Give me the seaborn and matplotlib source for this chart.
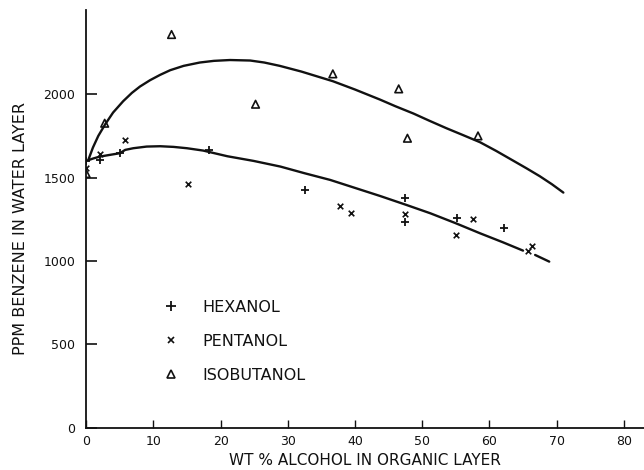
import numpy as np
import pandas as pd
import matplotlib
matplotlib.use("Agg")
import matplotlib.pyplot as plt
import seaborn as sns
from matplotlib.lines import Line2D

# ---- data ----
hex_x = [0.0, 2.0, 5.0, 18.3, 32.5, 47.4, 47.5, 55.2, 62.2]
hex_y = [1600, 1606, 1646, 1668, 1428, 1376, 1236, 1260, 1200]

pent_x = [0.0, 2.0, 5.8, 15.1, 37.8, 39.4, 47.5, 55.0, 57.6, 65.8, 66.3]
pent_y = [1560, 1640, 1726, 1460, 1332, 1288, 1284, 1156, 1252, 1060, 1088]

iso_x = [0.0, 2.75, 12.7, 25.2, 36.7, 46.5, 47.8, 58.3]
iso_y = [1524, 1826, 2358, 1940, 2122, 2032, 1736, 1750]

# hand-drawn fitted curves
upper_x = [0.3, 1.0, 1.8, 2.8, 4.0, 5.5, 6.8, 8.0, 9.5, 11.0, 12.5, 14.5, 16.9,
           19.0, 21.4, 24.4, 26.5, 28.8, 32.0, 36.7, 40.0, 43.7, 46.0, 48.7,
           51.0, 53.6, 56.0, 58.6, 61.0, 63.6, 65.5, 67.5, 69.3, 71.0]
upper_y = [1604, 1680, 1750, 1818, 1890, 1958, 2008, 2046, 2084, 2116, 2144, 2170, 2190,
           2200, 2205, 2202, 2190, 2170, 2136, 2078, 2028, 1968, 1928, 1884,
           1842, 1796, 1756, 1712, 1660, 1600, 1556, 1508, 1460, 1410]

lower_x = [0.3, 1.0, 2.05, 3.5, 5.0, 5.8, 7.0, 9.0, 11.0, 13.0, 15.0, 17.4,
           21.0, 24.9, 28.9, 32.5, 36.3, 40.0, 43.7, 47.5, 51.2, 55.0, 58.6,
           62.0, 65.0]
lower_y = [1604, 1614, 1626, 1636, 1646, 1666, 1676, 1686, 1688, 1684, 1676, 1662,
           1628, 1600, 1566, 1526, 1486, 1438, 1390, 1338, 1286, 1226, 1166,
           1112, 1062]
tail_x = [66.8, 68.9]
tail_y = [1036, 996]

series_names = ["HEXANOL", "PENTANOL", "ISOBUTANOL"]
x_ticks = [0, 10, 20, 30, 40, 50, 60, 70, 80]
y_ticks = [0, 500, 1000, 1500, 2000]

# ---- figure ----
sns.set_theme(style="white")
plt.rcParams["font.family"] = ["DejaVu Sans"]

fig = plt.figure(figsize=(6.44, 4.70), dpi=100)
ax = fig.add_axes([86.2 / 644, 42.3 / 470, (644 - 86.2) / 644, 417.7 / 470])

ink = "#111111"

sns.lineplot(x=upper_x, y=upper_y, sort=False, color=ink, lw=1.7, ax=ax)
sns.lineplot(x=lower_x, y=lower_y, sort=False, color=ink, lw=1.7, ax=ax)
sns.lineplot(x=tail_x, y=tail_y, sort=False, color=ink, lw=1.7, ax=ax)

sns.scatterplot(x=hex_x, y=hex_y, marker="+", s=40, color=ink, linewidth=1.3, ax=ax, zorder=5)
sns.scatterplot(x=pent_x, y=pent_y, marker="x", s=16, color=ink, linewidth=1.2, ax=ax, zorder=5)
sns.scatterplot(x=iso_x, y=iso_y, marker="^", s=30, facecolor="none", edgecolor=ink,
                linewidth=1.2, ax=ax, zorder=5)

ax.set_xlim(0, 83)
ax.set_ylim(0, 2505)
ax.set_xticks(x_ticks)
ax.set_yticks(y_ticks)
ax.set_xticklabels([str(t) for t in x_ticks])
ax.set_yticklabels([str(t) for t in y_ticks])

for side in ["top", "right"]:
    ax.spines[side].set_visible(False)
for side in ["left", "bottom"]:
    ax.spines[side].set_color(ink)
    ax.spines[side].set_linewidth(1.3)

ax.tick_params(axis="y", direction="in", length=8, width=1.2, colors=ink,
               labelsize=9, pad=8, left=True)
ax.tick_params(axis="x", direction="in", length=6, width=1.0, colors=ink,
               labelsize=9, pad=5, bottom=True)

ax.set_xlabel("WT % ALCOHOL IN ORGANIC LAYER", fontsize=11, color=ink, labelpad=4)
ax.set_ylabel("PPM BENZENE IN WATER LAYER", fontsize=11.5, color=ink, labelpad=11)
ax.yaxis.label.set_y(0.478)

handles = [
    Line2D([], [], marker="+", ls="none", color=ink, markersize=6.5, markeredgewidth=1.3),
    Line2D([], [], marker="x", ls="none", color=ink, markersize=4, markeredgewidth=1.2),
    Line2D([], [], marker="^", ls="none", markerfacecolor="none", markeredgecolor=ink,
           markersize=5.5, markeredgewidth=1.2),
]
leg = ax.legend(handles, series_names, loc="upper left", bbox_to_anchor=(0.119, 0.322),
                frameon=False, fontsize=11.5, labelspacing=1.2, handletextpad=1.2,
                handlelength=1.5, borderaxespad=0)
for t in leg.get_texts():
    t.set_color(ink)

fig.savefig("out.png", dpi=100, facecolor="white")
